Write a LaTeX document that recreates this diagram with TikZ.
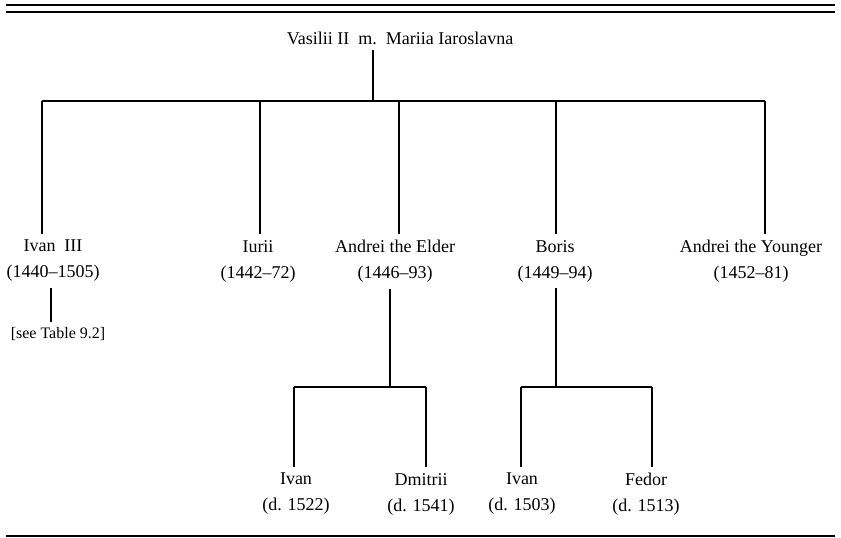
\documentclass[tikz,border=0pt]{standalone}
\usepackage{fontspec}
\setmainfont{Liberation Serif}
\usepackage{tikz}

\tikzset{
	person/.style={anchor=north, align=center, inner sep=0pt, inner ysep=6pt, font=\fontsize{18}{26}\selectfont},
	note/.style={anchor=north, inner sep=0pt, inner ysep=5pt, font=\fontsize{16}{20}\selectfont},
	tree/.style={line width=1.5pt},
	rule/.style={line width=2.2pt}
}

\begin{document}
\begin{tikzpicture}[x=1pt,y=-1pt]
	\useasboundingbox (0,0) rectangle (841,538);

	% rules
	\draw[rule] (6,5) -- (835,5);
	\draw[rule] (6,12) -- (835,12);
	\draw[rule] (6,536) -- (835,536);

	% parents
	\node[anchor=base, inner sep=0pt, inner ysep=6pt, font=\fontsize{18}{26}\selectfont] (parents) at (400,44) {Vasilii II\ \ m.\ \ Mariia Iaroslavna};
	\coordinate (m) at (373,101);
	\draw[tree] (parents.south -| m) -- (m);

	% children
	\node[person] (ivan) at (53,234) {Ivan\ \ III\\(1440--1505)};
	\node[person] (iurii) at (258,234) {Iurii\\(1442--72)};
	\node[person] (andrei) at (395,234) {Andrei the Elder\\(1446--93)};
	\node[person] (boris) at (555,234) {Boris\\(1449--94)};
	\node[person] (younger) at (751,234) {Andrei the Younger\\(1452--81)};

	\coordinate (ivanup) at (42,101);
	\coordinate (iuriiup) at (260,101);
	\coordinate (andreiup) at (399,101);
	\coordinate (borisup) at (556,101);
	\coordinate (youngerup) at (765,101);
	\draw[tree] (ivanup) -- (youngerup);
	\draw[tree] (ivanup) -- (ivanup |- ivan.north);
	\draw[tree] (iuriiup) -- (iuriiup |- iurii.north);
	\draw[tree] (andreiup) -- (andreiup |- andrei.north);
	\draw[tree] (borisup) -- (borisup |- boris.north);
	\draw[tree] (youngerup) -- (youngerup |- younger.north);

	% Ivan III
	\node[note] (seetable) at (58,322) {[see Table 9.2]};
	\coordinate (ivandown) at (51,0);
	\draw[tree] (ivan.south -| ivandown) -- (seetable.north -| ivandown);

	% grandchildren
	\node[person] (ivanA) at (296,467) {Ivan\\(d. 1522)};
	\node[person] (dmitrii) at (421,467) {Dmitrii\\(d. 1541)};
	\node[person] (ivanB) at (522,467) {Ivan\\(d. 1503)};
	\node[person] (fedor) at (646,467) {Fedor\\(d. 1513)};

	\coordinate (andreidown) at (390,387);
	\coordinate (ivanAup) at (294,387);
	\coordinate (dmitriiup) at (426,387);
	\draw[tree] (andrei.south -| andreidown) -- (andreidown);
	\draw[tree] (ivanAup) -- (dmitriiup);
	\draw[tree] (ivanAup) -- (ivanAup |- ivanA.north);
	\draw[tree] (dmitriiup) -- (dmitriiup |- dmitrii.north);

	\coordinate (borisdown) at (556,387);
	\coordinate (ivanBup) at (521,387);
	\coordinate (fedorup) at (652,387);
	\draw[tree] (boris.south -| borisdown) -- (borisdown);
	\draw[tree] (ivanBup) -- (fedorup);
	\draw[tree] (ivanBup) -- (ivanBup |- ivanB.north);
	\draw[tree] (fedorup) -- (fedorup |- fedor.north);
%	\draw[tree] (m) -- (andreiup);

\end{tikzpicture}
\end{document}
